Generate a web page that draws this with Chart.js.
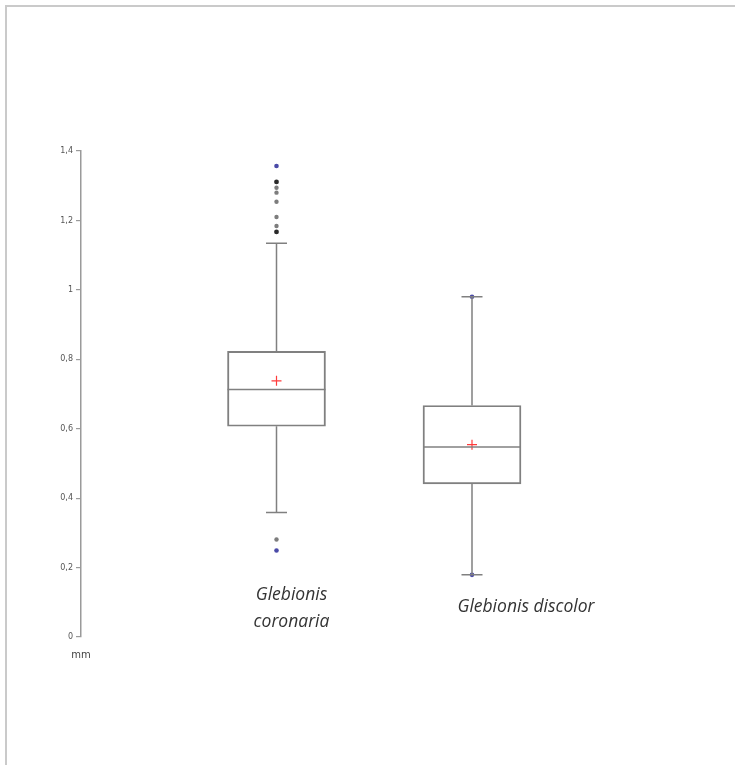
<!DOCTYPE html>
<html>
<head>
<meta charset="utf-8">
<script src="https://cdn.jsdelivr.net/npm/chart.js@4"></script>
<style>
  html, body { margin: 0; padding: 0; background: #fff; }
  #wrap { position: relative; width: 735px; height: 765px; overflow: hidden; }
  #frame { position: absolute; left: 5px; top: 5px; right: -10px; bottom: -10px;
           border-top: 2px solid #cacaca; border-left: 2px solid #cacaca; }
  canvas { position: absolute; left: 0; top: 0; }
</style>
</head>
<body>
<div id="wrap">
  <div id="frame"></div>
  <canvas id="c" width="735" height="765"></canvas>
</div>
<script>
// ---- data ----
const categories   = ['Glebionis coronaria', 'Glebionis discolor'];
const labelLines   = [['Glebionis', 'coronaria'], ['Glebionis discolor']];
const q1Values     = [0.607, 0.441];
const medianValues = [0.713, 0.547];
const q3Values     = [0.823, 0.667];
const whiskerLow   = [0.359, 0.179];
const whiskerHigh  = [1.134, 0.980];
const meanValues   = [0.738, 0.554];
const minValues    = [0.249, 0.179];
const maxValues    = [1.357, 0.980];
const outliersGray = [[1.294, 1.280, 1.254, 1.210, 1.184, 0.281], []];
const outliersDark = [[1.311, 1.167], []];
const yTicks       = [0, 0.2, 0.4, 0.6, 0.8, 1, 1.2, 1.4];
const yUnit        = 'mm';

const catX = categories.map((c, i) => i + 1);

function pts(arrs) {
  const out = [];
  arrs.forEach((a, i) => a.forEach(v => out.push({ x: catX[i], y: v })));
  return out;
}

const lineColor = '#808080';

const boxPlugin = {
  id: 'boxExtras',
  afterDatasetsDraw(chart) {
    const ctx = chart.ctx;
    const xs = chart.scales.x, ys = chart.scales.y;
    const boxMeta = chart.getDatasetMeta(0);
    ctx.save();
    ctx.strokeStyle = lineColor;
    ctx.lineWidth = 1.5;
    catX.forEach((cx, i) => {
      const px = xs.getPixelForValue(cx);
      const bar = boxMeta.data[i];
      const half = bar.width / 2;
      const capHalf = 10.5;
      const ym = ys.getPixelForValue(medianValues[i]);
      ctx.beginPath(); ctx.moveTo(px - half, ym); ctx.lineTo(px + half, ym); ctx.stroke();
      const yq1 = ys.getPixelForValue(q1Values[i]);
      const yq3 = ys.getPixelForValue(q3Values[i]);
      const ylo = ys.getPixelForValue(whiskerLow[i]);
      const yhi = ys.getPixelForValue(whiskerHigh[i]);
      ctx.beginPath();
      ctx.moveTo(px, yq3); ctx.lineTo(px, yhi);
      ctx.moveTo(px, yq1); ctx.lineTo(px, ylo);
      ctx.moveTo(px - capHalf, yhi); ctx.lineTo(px + capHalf, yhi);
      ctx.moveTo(px - capHalf, ylo); ctx.lineTo(px + capHalf, ylo);
      ctx.stroke();
    });
    ctx.restore();
  },
  afterDraw(chart) {
    const ctx = chart.ctx;
    const xs = chart.scales.x, ys = chart.scales.y;
    ctx.save();
    ctx.fillStyle = '#333';
    ctx.font = 'italic 17.5px "Open Sans"';
    ctx.textAlign = 'center';
    ctx.textBaseline = 'alphabetic';
    const offsets = [[15, -37, -10], [54, -25]];
    labelLines.forEach((lines, i) => {
      const px = xs.getPixelForValue(catX[i]) + offsets[i][0];
      lines.forEach((t, k) => {
        ctx.fillText(t, px, ys.getPixelForValue(0) + offsets[i][k + 1]);
      });
    });
    ctx.font = '10px "DejaVu Sans"';
    ctx.fillStyle = '#444';
    ctx.textBaseline = 'middle';
    ctx.fillText(yUnit, xs.left, ys.getPixelForValue(0) + 18);
    ctx.restore();
  }
};

new Chart(document.getElementById('c'), {
  type: 'bar',
  data: {
    datasets: [
      {
        type: 'bar',
        data: catX.map((x, i) => ({ x: x, y: [q1Values[i], q3Values[i]] })),
        barThickness: 98,
        backgroundColor: 'rgba(0,0,0,0)',
        borderColor: lineColor,
        borderWidth: 1.3,
        borderSkipped: false,
        order: 3
      },
      {
        type: 'scatter',
        data: pts(outliersGray),
        pointRadius: 2.2,
        pointBackgroundColor: '#7d7d7d',
        pointBorderWidth: 0,
        order: 2
      },
      {
        type: 'scatter',
        data: pts(outliersDark),
        pointRadius: 2.4,
        pointBackgroundColor: '#2a2a2a',
        pointBorderWidth: 0,
        order: 2
      },
      {
        type: 'scatter',
        data: catX.flatMap((x, i) => [{ x: x, y: minValues[i] }, { x: x, y: maxValues[i] }]),
        pointRadius: 2.3,
        pointBackgroundColor: '#4a4aa8',
        pointBorderWidth: 0,
        order: 1
      },
      {
        type: 'scatter',
        data: catX.map((x, i) => ({ x: x, y: meanValues[i] })),
        pointStyle: 'cross',
        pointRadius: 5,
        pointBorderColor: '#ff3b3b',
        pointBorderWidth: 1.2,
        order: 0
      }
    ]
  },
  options: {
    responsive: false,
    animation: false,
    events: [],
    layout: { padding: { left: 0, right: 67.5, top: 151, bottom: 128 } },
    plugins: { legend: { display: false }, tooltip: { enabled: false } },
    scales: {
      x: { type: 'linear', min: 0, max: 3, display: false, offset: false },
      y: {
        type: 'linear', min: 0, max: 1.4,
        afterFit(scale) { scale.width = 81; },
        afterBuildTicks(scale) { scale.ticks = yTicks.map(v => ({ value: v })); },
        border: { display: true, color: '#9a9a9a', width: 1.5 },
        grid: { drawOnChartArea: false, drawTicks: true, tickLength: 5, color: '#9a9a9a', lineWidth: 1.2 },
        ticks: {
          padding: 3,
          color: '#555',
          font: { size: 8, family: '"DejaVu Sans"' },
          callback: v => String(Number(v.toFixed(1))).replace('.', ',')
        }
      }
    }
  },
  plugins: [boxPlugin]
});
</script>
</body>
</html>
